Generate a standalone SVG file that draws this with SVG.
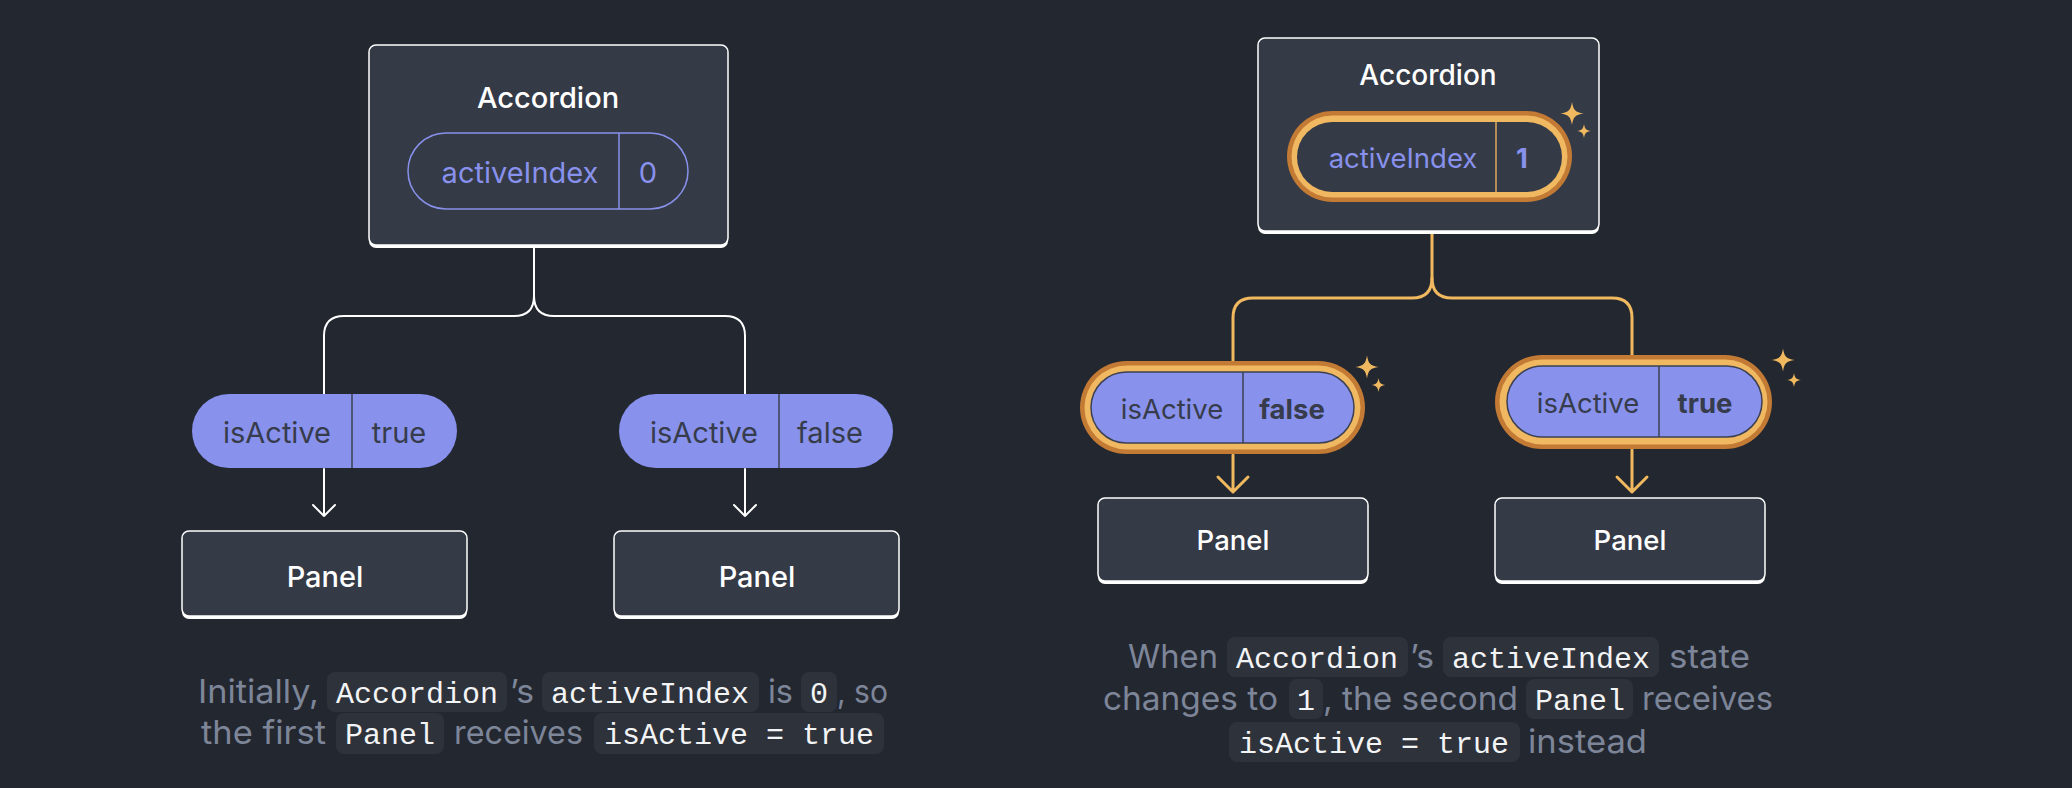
<svg xmlns="http://www.w3.org/2000/svg" xmlns:xlink="http://www.w3.org/1999/xlink" width="2072" height="788" viewBox="0 0 2072 788">
<style>
.box{fill:#343a46;stroke:#ffffff;stroke-width:1.5}
.sh{fill:#ffffff}
.lbl{font-family:Inter,"Noto Sans",sans-serif;fill:#ffffff;font-weight:500;text-anchor:middle}
.wire{fill:none;stroke:#ffffff;stroke-width:2;stroke-linecap:round;stroke-linejoin:round}
.owire{fill:none;stroke:#f0b95f;stroke-width:3;stroke-linecap:round;stroke-linejoin:round}
.pp{fill:#8891ec}
.ppt{font-family:Inter,"Noto Sans",sans-serif;fill:#363c4b;text-anchor:middle}
.pdiv{stroke:#3b4152;stroke-width:1.5}
.ring1{fill:#c27a34}
.ring2{fill:#f1b862}
.star{fill:#f0b95f}
.prose{font-family:Inter,"Noto Sans",sans-serif;font-size:33px;fill:#7d8599}
.code{font-family:"Liberation Mono","DejaVu Sans Mono",monospace;font-size:30px;fill:#f3f4f6}
.chip{fill:#2e323a}
</style>
<defs>
<path id="star" d="M0,-1 C0.12,-0.28 0.28,-0.12 1,0 C0.28,0.12 0.12,0.28 0,1 C-0.12,0.28 -0.28,0.12 -1,0 C-0.28,-0.12 -0.12,-0.28 0,-1Z"/>
</defs>
<rect x="0" y="0" width="2072" height="788" fill="#23272f"/>

<g id="connectors">
<path class="wire" d="M534 248 V296 Q534 316 514 316 H344 Q324 316 324 336 V394"/>
<path class="wire" d="M534 296 Q534 316 554 316 H725 Q745 316 745 336 V394"/>
<path class="wire" d="M324 469 V516 M313 505 L324 516 L335 505"/>
<path class="wire" d="M745 469 V516 M734 505 L745 516 L756 505"/>
<path class="owire" d="M1432 234 V278 Q1432 298 1412 298 H1253 Q1233 298 1233 318 V361"/>
<path class="owire" d="M1432 278 Q1432 298 1452 298 H1612 Q1632 298 1632 318 V355"/>
<path class="owire" d="M1233 455 V491 M1218 477 L1233 492 L1248 477"/>
<path class="owire" d="M1632 450 V491 M1617 477 L1632 492 L1647 477"/>
</g>

<g id="accordion-left">
<rect class="sh" x="369" y="48" width="359" height="200" rx="7"/>
<rect class="box" x="369" y="45" width="359" height="200" rx="7"/>
<text class="lbl" x="548" y="108" font-size="29">Accordion</text>
<rect x="408" y="133" width="280" height="76" rx="38" fill="none" stroke="#8891ec" stroke-width="1.5"/>
<line x1="619" y1="133" x2="619" y2="209" stroke="#8891ec" stroke-width="1.5"/>
<text x="520" y="183" font-size="29" fill="#8891ec" font-family="Inter,'Noto Sans',sans-serif" text-anchor="middle">activeIndex</text>
<text x="648" y="183" font-size="29" fill="#8891ec" font-family="Inter,'Noto Sans',sans-serif" text-anchor="middle">0</text>
</g>

<g id="prop-left-1">
<rect class="pp" x="192" y="394" width="265" height="74" rx="37"/>
<line class="pdiv" x1="352" y1="394" x2="352" y2="468"/>
<text class="ppt" x="277" y="443" font-size="29">isActive</text>
<text class="ppt" x="399" y="443" font-size="29">true</text>
</g>

<g id="prop-left-2">
<rect class="pp" x="619" y="394" width="274" height="74" rx="37"/>
<line class="pdiv" x1="779" y1="394" x2="779" y2="468"/>
<text class="ppt" x="704" y="443" font-size="29">isActive</text>
<text class="ppt" x="830" y="443" font-size="29">false</text>
</g>

<g id="panel-left-1">
<rect class="sh" x="182" y="534" width="285" height="85" rx="7"/>
<rect class="box" x="182" y="531" width="285" height="85" rx="7"/>
<text class="lbl" x="325" y="587" font-size="29">Panel</text>
</g>

<g id="panel-left-2">
<rect class="sh" x="614" y="534" width="285" height="85" rx="7"/>
<rect class="box" x="614" y="531" width="285" height="85" rx="7"/>
<text class="lbl" x="757" y="587" font-size="29">Panel</text>
</g>

<g id="accordion-right">
<rect class="sh" x="1258" y="41" width="341" height="193" rx="7"/>
<rect class="box" x="1258" y="38" width="341" height="193" rx="7"/>
<text class="lbl" x="1428" y="85" font-size="28">Accordion</text>
<rect class="ring1" x="1287" y="111" width="285" height="91" rx="45.5"/>
<rect class="ring2" x="1291.5" y="115.5" width="276" height="82" rx="41"/>
<rect x="1297" y="122" width="265" height="70" rx="35" fill="#343a46"/>
<line x1="1496" y1="122" x2="1496" y2="192" stroke="#e0aa5c" stroke-width="1.5"/>
<text x="1403" y="168" font-size="27.5" fill="#8891ec" font-family="Inter,'Noto Sans',sans-serif" text-anchor="middle">activeIndex</text>
<text x="1522" y="168" font-size="27.5" fill="#8891ec" font-weight="700" font-family="Inter,'Noto Sans',sans-serif" text-anchor="middle">1</text>
<use href="#star" class="star" transform="translate(1572 113.5) scale(11.5)"/>
<use href="#star" class="star" transform="translate(1584 131) scale(7)"/>
</g>

<g id="prop-right-1">
<rect class="ring1" x="1080" y="361" width="285" height="93" rx="46.5"/>
<rect class="ring2" x="1084.5" y="365.5" width="276" height="84" rx="42"/>
<rect class="pp" x="1091" y="372" width="263" height="71" rx="35.5" stroke="#3b4152" stroke-width="1.5"/>
<line class="pdiv" x1="1243" y1="372" x2="1243" y2="443"/>
<text class="ppt" x="1172" y="419" font-size="27.5">isActive</text>
<text class="ppt" x="1292" y="419" font-size="27.5" font-weight="700">false</text>
<use href="#star" class="star" transform="translate(1367 367) scale(11.5)"/>
<use href="#star" class="star" transform="translate(1378.5 385) scale(7)"/>
</g>

<g id="prop-right-2">
<rect class="ring1" x="1495" y="355" width="277" height="94" rx="47"/>
<rect class="ring2" x="1499.5" y="359.5" width="268" height="85" rx="42.5"/>
<rect class="pp" x="1507" y="366" width="255" height="71" rx="35.5" stroke="#3b4152" stroke-width="1.5"/>
<line class="pdiv" x1="1659" y1="366" x2="1659" y2="437"/>
<text class="ppt" x="1588" y="413" font-size="27.5">isActive</text>
<text class="ppt" x="1705" y="413" font-size="27.5" font-weight="700">true</text>
<use href="#star" class="star" transform="translate(1783 360) scale(11.5)"/>
<use href="#star" class="star" transform="translate(1794 380) scale(7)"/>
</g>

<g id="panel-right-1">
<rect class="sh" x="1098" y="501" width="270" height="83" rx="7"/>
<rect class="box" x="1098" y="498" width="270" height="83" rx="7"/>
<text class="lbl" x="1233" y="550" font-size="27.5">Panel</text>
</g>

<g id="panel-right-2">
<rect class="sh" x="1495" y="501" width="270" height="83" rx="7"/>
<rect class="box" x="1495" y="498" width="270" height="83" rx="7"/>
<text class="lbl" x="1630" y="550" font-size="27.5">Panel</text>
</g>

<g id="caption-left">
<rect class="chip" x="327" y="672" width="180" height="40" rx="8"/>
<rect class="chip" x="542" y="672" width="217" height="40" rx="8"/>
<rect class="chip" x="801" y="672" width="36" height="40" rx="8"/>
<rect class="chip" x="336" y="713" width="108" height="41" rx="8"/>
<rect class="chip" x="594" y="713" width="290" height="41" rx="8"/>
<text class="prose" x="198" y="703" textLength="121" lengthAdjust="spacingAndGlyphs">Initially,</text>
<text class="code" x="336" y="703">Accordion</text>
<text class="prose" x="510" y="703" textLength="24" lengthAdjust="spacingAndGlyphs">’s</text>
<text class="code" x="551" y="703">activeIndex</text>
<text class="prose" x="768" y="703" textLength="25" lengthAdjust="spacingAndGlyphs">is</text>
<text class="code" x="810" y="703">0</text>
<text class="prose" x="837" y="703" textLength="51" lengthAdjust="spacingAndGlyphs">, so</text>
<text class="prose" x="201" y="744" textLength="125" lengthAdjust="spacingAndGlyphs">the first</text>
<text class="code" x="345" y="744">Panel</text>
<text class="prose" x="454" y="744" textLength="129" lengthAdjust="spacingAndGlyphs">receives</text>
<text class="code" x="604" y="744">isActive = true</text>
</g>

<g id="caption-right">
<rect class="chip" x="1227" y="637" width="181" height="40" rx="8"/>
<rect class="chip" x="1443" y="637" width="216" height="40" rx="8"/>
<rect class="chip" x="1289" y="679" width="34" height="40" rx="8"/>
<rect class="chip" x="1526" y="679" width="107" height="40" rx="8"/>
<rect class="chip" x="1229" y="722" width="291" height="40" rx="8"/>
<text class="prose" x="1128" y="668" textLength="90" lengthAdjust="spacingAndGlyphs">When</text>
<text class="code" x="1236" y="668">Accordion</text>
<text class="prose" x="1410" y="668" textLength="24" lengthAdjust="spacingAndGlyphs">’s</text>
<text class="code" x="1452" y="668">activeIndex</text>
<text class="prose" x="1669" y="668" textLength="81" lengthAdjust="spacingAndGlyphs">state</text>
<text class="prose" x="1103" y="710" textLength="175" lengthAdjust="spacingAndGlyphs">changes to</text>
<text class="code" x="1297" y="710">1</text>
<text class="prose" x="1323" y="710" textLength="195" lengthAdjust="spacingAndGlyphs">, the second</text>
<text class="code" x="1535" y="710">Panel</text>
<text class="prose" x="1642" y="710" textLength="131" lengthAdjust="spacingAndGlyphs">receives</text>
<text class="code" x="1239" y="753">isActive = true</text>
<text class="prose" x="1528" y="753" textLength="119" lengthAdjust="spacingAndGlyphs">instead</text>
</g>
</svg>
